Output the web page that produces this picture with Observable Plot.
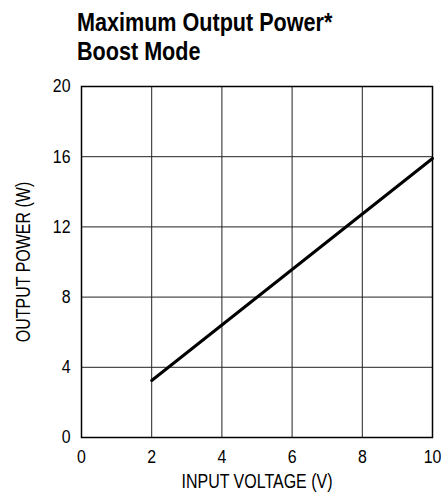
<!DOCTYPE html>
<html>
<head>
<meta charset="utf-8">
<script src="https://cdn.jsdelivr.net/npm/d3@7"></script>
<script src="https://cdn.jsdelivr.net/npm/@observablehq/plot@0.6"></script>
<style>
  body { margin: 0; background: #fff; }
  #wrap { position: relative; width: 441px; height: 493px; background: #fff; }
  #title { position: absolute; left: 77px; top: 8px; z-index: 2; font-family: "Liberation Sans", Arial, sans-serif; font-weight: bold; font-size: 26px; line-height: 29px; color: #000; transform: scaleX(0.83); transform-origin: 0 0; white-space: nowrap; }
  #wrap svg { position: absolute; left: 0; top: 0; z-index: 1; }
</style>
</head>
<body>
<div id="wrap"><div id="title"></div></div>
<script>
const titleLines = ["Maximum Output Power*", "Boost Mode"];
const xTicks = [0, 2, 4, 6, 8, 10];
const yTicks = [0, 4, 8, 12, 16, 20];
const inputVoltage = [2, 10];
const outputPower = [3.25, 15.9];
const xLabel = "INPUT VOLTAGE (V)";
const yLabel = "OUTPUT POWER (W)";

document.getElementById("title").innerHTML = titleLines.join("<br>");

const data = inputVoltage.map((v, i) => ({x: v, y: outputPower[i]}));
const font = '"Liberation Sans", Arial, sans-serif';

const chart = Plot.plot({
  width: 441,
  height: 493,
  marginLeft: 81,
  marginRight: 9,
  marginTop: 86,
  marginBottom: 56,
  style: {fontFamily: font, fontSize: "16px", color: "#000", background: "transparent"},
  x: {domain: [0, 10]},
  y: {domain: [0, 20]},
  marks: [
    Plot.ruleX(xTicks, {stroke: "#222", strokeWidth: 1}),
    Plot.ruleY(yTicks, {stroke: "#222", strokeWidth: 1}),
    Plot.frame({stroke: "#000", strokeWidth: 1.5}),
    Plot.line(data, {x: "x", y: "y", stroke: "#000", strokeWidth: 3}),
    Plot.axisX({ticks: xTicks, tickSize: 0, tickPadding: 12, fontSize: 18.5, label: null}),
    Plot.axisY({ticks: yTicks, tickSize: 0, tickPadding: 11, fontSize: 18.5, label: null}),
    Plot.text([xLabel], {frameAnchor: "bottom", textAnchor: "middle", lineAnchor: "middle", dy: 44, fontSize: 19.5, text: d => d, className: "axlab"}),
    Plot.text([yLabel], {frameAnchor: "left", textAnchor: "middle", lineAnchor: "middle", dx: -58, rotate: -90, fontSize: 19.5, text: d => d, className: "axlab"})
  ]
});

// condense text horizontally (reference uses a condensed sans)
function condense(sel, s) {
  chart.querySelectorAll(sel).forEach(t => {
    const tr = t.getAttribute("transform");
    if (tr) {
      t.setAttribute("transform", tr + ` scale(${s},1)`);
    } else {
      const x = +(t.getAttribute("x") || 0), y = +(t.getAttribute("y") || 0);
      t.removeAttribute("x"); t.removeAttribute("y");
      t.setAttribute("transform", `translate(${x},${y}) scale(${s},1)`);
    }
  });
}
condense("g[aria-label$='tick label'] text", 0.86);
condense(".axlab text", 0.82);

document.getElementById("wrap").appendChild(chart);
</script>
</body>
</html>
